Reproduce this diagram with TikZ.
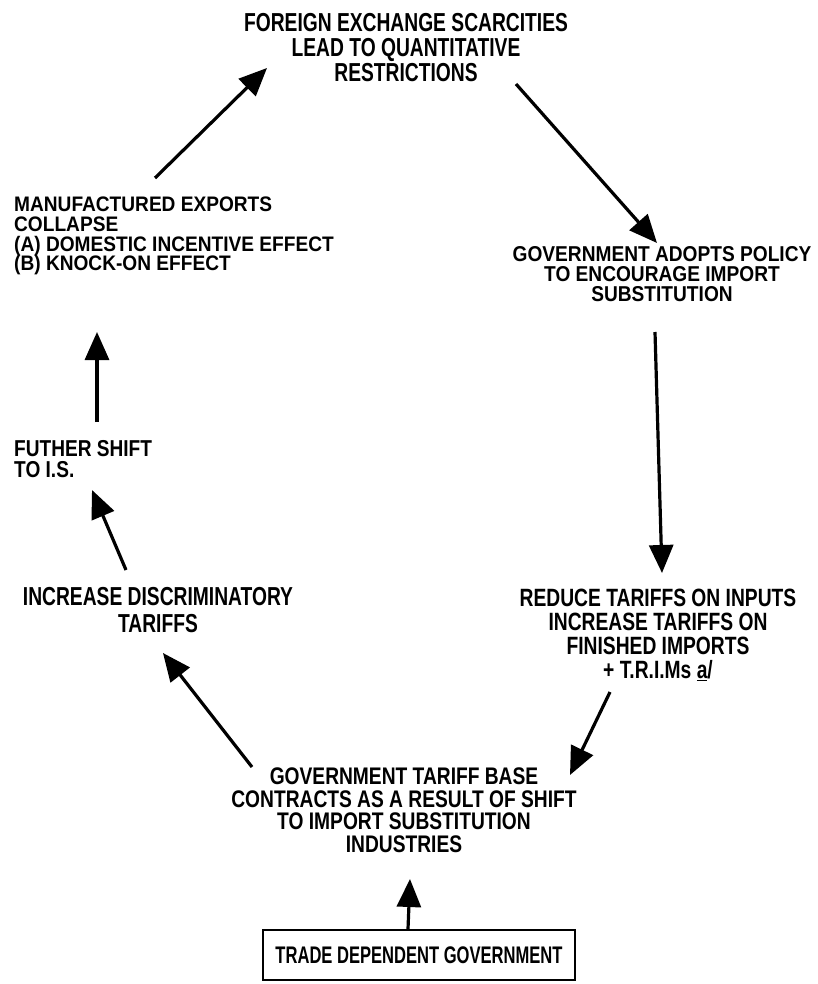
\documentclass[tikz,border=0pt]{standalone}
\usepackage{fontspec}
\newfontfamily\dfont{Liberation Sans}[FakeStretch=0.74]
\newfontfamily\dfontB{Liberation Sans}[FakeStretch=0.77]
\newfontfamily\dfontC{Liberation Sans}[FakeStretch=0.80]
\newfontfamily\dfontD{Liberation Sans}[FakeStretch=0.83]
\newfontfamily\dfontE{Liberation Sans}[FakeStretch=0.89]
\newfontfamily\dfontF{Liberation Sans}[FakeStretch=0.91]
\newfontfamily\dfontG{Liberation Sans}[FakeStretch=0.69]
\usetikzlibrary{arrows.meta}
\begin{document}
\begin{tikzpicture}[x=1pt,y=-1pt,
  txt/.style={inner sep=0pt,font=\dfont\bfseries\fontsize{26}{24}\selectfont},
  arr/.style={line width=3.2pt,-{Triangle[length=28pt,width=24pt]}},
  boxnode/.style={draw,line width=2pt,minimum width=312pt,minimum height=50pt,inner sep=0pt,font=\dfontG\bfseries\fontsize{24}{24}\selectfont}]
\useasboundingbox (0,0) rectangle (818,984);
% text blocks
\node[txt,anchor=north,align=center,font=\dfont\bfseries\fontsize{26}{25}\selectfont] (top) at (406,13)
  {FOREIGN EXCHANGE SCARCITIES\\LEAD TO QUANTITATIVE\\RESTRICTIONS};
\node[txt,anchor=north west,align=left,font=\dfontF\bfseries\fontsize{21}{19.6}\selectfont] (mfg) at (14,197)
  {MANUFACTURED EXPORTS\\COLLAPSE\\(A) DOMESTIC INCENTIVE EFFECT\\(B) KNOCK-ON EFFECT};
\node[txt,anchor=north,align=center,font=\dfontE\bfseries\fontsize{21.5}{20.2}\selectfont] (gov) at (662,246)
  {GOVERNMENT ADOPTS POLICY\\TO ENCOURAGE IMPORT\\SUBSTITUTION};
\node[txt,anchor=north west,align=left,font=\dfontD\bfseries\fontsize{23}{21.6}\selectfont] (fur) at (14,440)
  {FUTHER SHIFT\\TO I.S.};
\node[txt,anchor=north,align=center,font=\dfont\bfseries\fontsize{26}{27}\selectfont] (inc) at (158,587)
  {INCREASE DISCRIMINATORY\\TARIFFS};
\node[txt,anchor=north,align=center,font=\dfontB\bfseries\fontsize{25}{24}\selectfont] (red) at (658,589)
  {REDUCE TARIFFS ON INPUTS\\INCREASE TARIFFS ON\\FINISHED IMPORTS\\+ T.R.I.Ms \underline{a}/};
\node[txt,anchor=north,align=center,font=\dfontC\bfseries\fontsize{24}{22.5}\selectfont] (base) at (404,768)
  {GOVERNMENT TARIFF BASE\\CONTRACTS AS A RESULT OF SHIFT\\TO IMPORT SUBSTITUTION\\INDUSTRIES};
\node[boxnode] (trade) at (419,955) {TRADE DEPENDENT GOVERNMENT};
% connector ends
\coordinate (a1s) at (155,178); \coordinate (a1e) at (267,68);
\coordinate (a2s) at (516,84);  \coordinate (a2e) at (657,243);
\coordinate (a3s) at (655,332); \coordinate (a3e) at (662,573);
\coordinate (a4s) at (610,692); \coordinate (a4e) at (570,775);
\coordinate (a5s) at (252,767); \coordinate (a5e) at (163,653);
\coordinate (a6s) at (126,570); \coordinate (a6e) at (92,490);
\coordinate (a7s) at (97,422);  \coordinate (a7e) at (97,332);
\coordinate (a8s) at (trade.north -| 408,0); \coordinate (a8e) at (410,879);
\draw[arr] (a1s) -- (a1e);
\draw[arr] (a2s) -- (a2e);
\draw[arr] (a3s) -- (a3e);
\draw[arr] (a4s) -- (a4e);
\draw[arr] (a5s) -- (a5e);
\draw[arr] (a6s) -- (a6e);
\draw[arr] (a7s) -- (a7e);
\draw[arr] (a8s) -- (a8e);
\end{tikzpicture}
\end{document}
